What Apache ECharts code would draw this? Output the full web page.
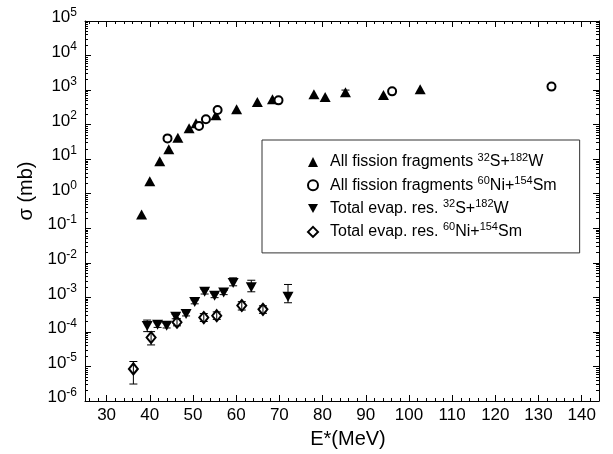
<!DOCTYPE html>
<html>
<head>
<meta charset="utf-8">
<script src="https://cdn.jsdelivr.net/npm/echarts@6/dist/echarts.min.js"></script>
<style>html,body{margin:0;padding:0;background:#fff}#c{width:613px;height:454px}</style>
</head>
<body>
<div id="c"></div>
<script>
// ---- data (E* in MeV, sigma in mb) ----
const fissionS_E   = [38.1, 40.0, 42.3, 44.4, 46.5, 49.1, 50.7, 55.3, 60.1, 64.9, 68.4, 78.0, 80.6, 85.3, 94.1, 102.6];
const fissionS_Sig = [0.25, 2.3, 8.7, 19.5, 42, 79, 110, 187, 277, 450, 540, 760, 630, 870, 720, 1050];
const fissionS_ErrE  = [85.3];
const fissionS_ErrLo = [690];
const fissionS_ErrHi = [1000];

const fissionNi_E   = [44.1, 51.4, 53.0, 55.7, 69.8, 96.1, 133.0];
const fissionNi_Sig = [40, 92, 144, 265, 505, 920, 1260];

const evapS_E   = [39.4, 41.8, 43.9, 46.0, 48.4, 50.4, 52.7, 55.0, 57.1, 59.3, 63.5, 72.0];
const evapS_Sig = [1.48e-4, 1.6e-4, 1.5e-4, 2.75e-4, 3.3e-4, 7.4e-4, 1.45e-3, 1.12e-3, 1.38e-3, 2.6e-3, 1.95e-3, 1.05e-3];
const evapS_Lo  = [1.02e-4, 1.35e-4, 1.3e-4, 2.4e-4, 2.9e-4, 6.5e-4, 1.25e-3, 9.8e-4, 1.2e-3, 2.16e-3, 1.45e-3, 6.98e-4];
const evapS_Hi  = [2.2e-4, 1.85e-4, 1.75e-4, 3.2e-4, 3.8e-4, 8.4e-4, 1.7e-3, 1.3e-3, 1.6e-3, 3.67e-3, 3.13e-3, 2.36e-3];

const evapNi_E   = [36.2, 40.3, 46.3, 52.5, 55.5, 61.3, 66.2];
const evapNi_Sig = [8.5e-6, 6.9e-5, 1.9e-4, 2.6e-4, 2.95e-4, 5.8e-4, 4.5e-4];
const evapNi_Lo  = [3.1e-6, 4.2e-5, 1.5e-4, 2.0e-4, 2.3e-4, 4.3e-4, 3.45e-4];
const evapNi_Hi  = [1.39e-5, 1.02e-4, 2.4e-4, 3.4e-4, 3.8e-4, 7.5e-4, 5.7e-4];

const xTickLabels = [30, 40, 50, 60, 70, 80, 90, 100, 110, 120, 130, 140];
const yDecades = [-6, -5, -4, -3, -2, -1, 0, 1, 2, 3, 4, 5];

const seriesNames = ['fissS', 'fissNi', 'evapS', 'evapNi'];
const legendParts = {
  fissS:  ['All fission fragments ', '32', 'S+', '182', 'W'],
  fissNi: ['All fission fragments ', '60', 'Ni+', '154', 'Sm'],
  evapS:  ['Total evap. res. ', '32', 'S+', '182', 'W'],
  evapNi: ['Total evap. res. ', '60', 'Ni+', '154', 'Sm']
};

// ---- helpers ----
const FONT = "'Liberation Sans', Arial, Helvetica, sans-serif";
const zip = (a, b) => a.map((v, i) => [v, b[i]]);
const zip3 = (a, b, c) => a.map((v, i) => [v, b[i], c[i]]);
const xMinor = [];
for (let v = 26; v <= 144; v += 2) if (v % 10 !== 0) xMinor.push(v);
const yMinor = [];
for (let n = -6; n < 5; n++) for (let k = 2; k <= 9; k++) yMinor.push(n + Math.log10(k));

function errRender(params, api) {
  const x = api.value(0), lo = api.value(1), hi = api.value(2);
  const a = api.coord([x, lo]), b = api.coord([x, hi]);
  const w = 4;
  const st = { stroke: '#000', lineWidth: 1 };
  return { type: 'group', children: [
    { type: 'line', shape: { x1: a[0], y1: a[1], x2: b[0], y2: b[1] }, style: st },
    { type: 'line', shape: { x1: a[0] - w, y1: a[1], x2: a[0] + w, y2: a[1] }, style: st },
    { type: 'line', shape: { x1: b[0] - w, y1: b[1], x2: b[0] + w, y2: b[1] }, style: st }
  ]};
}

const axisLineStyle = { color: '#000', width: 1 };
function xDeco(position, ticks, len, showLine) {
  return { type: 'value', position, min: 25, max: 144,
    axisLine: { show: showLine, onZero: false, lineStyle: axisLineStyle },
    axisTick: { inside: true, length: len, customValues: ticks, lineStyle: axisLineStyle },
    axisLabel: { show: false }, splitLine: { show: false } };
}
function yDeco(position, ticks, len, showLine) {
  const ax = { type: 'value', position, min: -6, max: 5,
    axisLine: { show: showLine, onZero: false, lineStyle: axisLineStyle },
    axisTick: { inside: true, length: len, lineStyle: axisLineStyle },
    axisLabel: { show: false }, splitLine: { show: false } };
  if (ticks) ax.axisTick.customValues = ticks; else ax.interval = 1;
  return ax;
}

const yLabelAxis = yDeco('left', null, 6, true);
yLabelAxis.axisLabel = {
  show: true, margin: 8, showMinLabel: true, showMaxLabel: true,
  padding: [0, 0, 7, 0],
  formatter: v => '{b|10}{s|' + v + '}',
  rich: {
    b: { fontSize: 17, fontFamily: FONT, color: '#000', lineHeight: 22 },
    s: { fontSize: 12, fontFamily: FONT, color: '#000', lineHeight: 12, verticalAlign: 'top' }
  }
};
yLabelAxis.name = 'σ (mb)';
yLabelAxis.nameLocation = 'middle';
yLabelAxis.nameGap = 48;
yLabelAxis.nameTextStyle = { fontSize: 20, fontFamily: FONT, color: '#000', padding: [0, 0, 0, 40] };

const xMain = xDeco('bottom', xTickLabels, 6, true);
xMain.axisLabel = { show: true, customValues: xTickLabels, margin: 6, fontSize: 17, fontFamily: FONT, color: '#000' };
xMain.name = 'E*(MeV)';
xMain.nameLocation = 'middle';
xMain.nameGap = 28;
xMain.nameTextStyle = { fontSize: 20, fontFamily: FONT, color: '#000', padding: [0, 0, 0, 12] };

const chart = echarts.init(document.getElementById('c'), null, { renderer: 'canvas' });
chart.setOption({
  animation: false,
  backgroundColor: '#fff',
  grid: { left: 85, right: 14, top: 21, bottom: 51, containLabel: false },
  xAxis: [
    xMain,
    xDeco('bottom', xMinor, 3, false),
    xDeco('top', xTickLabels, 6, true),
    xDeco('top', xMinor, 3, false)
  ],
  yAxis: [
    { type: 'log', logBase: 10, min: 1e-6, max: 1e5, show: false },
    yLabelAxis,
    yDeco('left', yMinor, 3, false),
    yDeco('right', null, 6, true),
    yDeco('right', yMinor, 3, false)
  ],
  legend: {
    orient: 'vertical', left: 262, top: 140,
    padding: [12, 23, 13, 45],
    itemWidth: 10, itemHeight: 10, itemGap: 5.3,
    borderColor: '#333', borderWidth: 1,
    selectedMode: false,
    itemStyle: { opacity: 1 },
    data: [
      { name: 'fissS', icon: 'triangle' },
      { name: 'fissNi', icon: 'emptyCircle' },
      { name: 'evapS', icon: 'path://M0,0L10,0L5,9Z' },
      { name: 'evapNi', icon: 'emptyDiamond' }
    ],
    formatter: name => {
      const p = legendParts[name];
      return '{sp| }{n|' + p[0] + '}{s|' + p[1] + '}{n|' + p[2] + '}{s|' + p[3] + '}{n|' + p[4] + '}';
    },
    textStyle: {
      fontSize: 16, fontFamily: FONT, color: '#000',
      rich: {
        sp: { width: 7, fontSize: 16, lineHeight: 20 },
        n: { fontSize: 16, fontFamily: FONT, color: '#000', lineHeight: 20 },
        s: { fontSize: 11, fontFamily: FONT, color: '#000', lineHeight: 11, verticalAlign: 'top' }
      }
    }
  },
  series: [
    { name: 'fissS', type: 'scatter', xAxisIndex: 0, yAxisIndex: 0, symbol: 'triangle', symbolSize: [11, 10],
      itemStyle: { color: '#000', opacity: 1 }, data: zip(fissionS_E, fissionS_Sig), z: 3 },
    { name: 'fissNi', type: 'scatter', xAxisIndex: 0, yAxisIndex: 0, symbol: 'emptyCircle', symbolSize: 8,
      itemStyle: { color: '#000', borderColor: '#000', borderWidth: 1, opacity: 1 }, data: zip(fissionNi_E, fissionNi_Sig), z: 4 },
    { name: 'evapS', type: 'scatter', xAxisIndex: 0, yAxisIndex: 0, symbol: 'triangle', symbolRotate: 180, symbolSize: [11, 10],
      itemStyle: { color: '#000', opacity: 1 }, data: zip(evapS_E, evapS_Sig), z: 3 },
    { name: 'evapNi', type: 'scatter', xAxisIndex: 0, yAxisIndex: 0, symbol: 'emptyDiamond', symbolSize: [9, 11],
      itemStyle: { color: '#000', borderColor: '#000', borderWidth: 1, opacity: 1 }, data: zip(evapNi_E, evapNi_Sig), z: 4 },
    { name: 'errS', type: 'custom', xAxisIndex: 0, yAxisIndex: 0, renderItem: errRender, z: 5,
      data: zip3(fissionS_ErrE, fissionS_ErrLo, fissionS_ErrHi).concat(zip3(evapS_E, evapS_Lo, evapS_Hi)) },
    { name: 'errNi', type: 'custom', xAxisIndex: 0, yAxisIndex: 0, renderItem: errRender, z: 5,
      data: zip3(evapNi_E, evapNi_Lo, evapNi_Hi) }
  ]
});
</script>
</body>
</html>
